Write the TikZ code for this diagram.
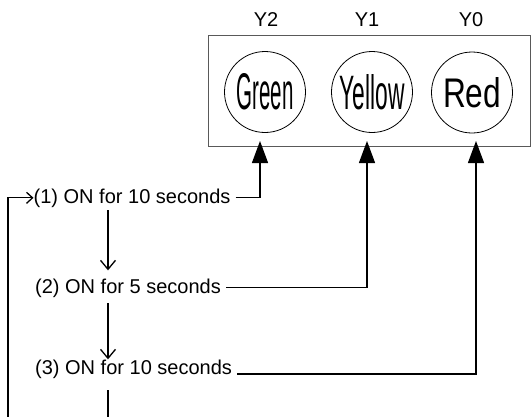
\documentclass[tikz,border=0pt]{standalone}
\usepackage{fontspec}
\usepackage{graphicx}
\setmainfont{Liberation Sans}
\usetikzlibrary{arrows.meta}
\begin{document}
\begin{tikzpicture}[x=1pt,y=-1pt,
  lbl/.style={font=\fontsize{20}{24}\selectfont, inner sep=0pt},
  lamp/.style={circle, draw, line width=0.8pt, minimum size=81pt, inner sep=0pt},
  wire/.style={line width=1.3pt},
  feed/.style={wire, -{Triangle[length=22pt,width=16pt]}},
  flow/.style={wire, -{Straight Barb[length=9pt,width=15pt]}},
  loopin/.style={wire, -{Straight Barb[length=6pt,width=11pt]}},
]
\useasboundingbox (0,0) rectangle (532,416);
% panel
\node[draw=black!65, line width=1.3pt, minimum width=322pt, minimum height=111pt,
      inner sep=0pt, anchor=north west] (panel) at (208,35) {};
% output labels
\node[lbl, anchor=base] (y2) at (266,26) {Y2};
\node[lbl, anchor=base] (y1) at (367,26) {Y1};
\node[lbl, anchor=base] (y0) at (471,26) {Y0};
% lamps
\node[lamp] (g) at (265,92) {\resizebox{57pt}{36pt}{Green}};
\node[lamp] (yl) at (372,92) {\raisebox{-3pt}{\resizebox{65pt}{35pt}{Yellow}}};
\node[lamp] (r) at (472,92.5) {\resizebox{58pt}{30pt}{Red}};
% steps
\node[lbl, anchor=base west] (t1) at (33.5,203) {(1) ON for 10 seconds};
\node[lbl, anchor=base west] (t2) at (35,293) {(2) ON for 5 seconds};
\node[lbl, anchor=base west] (t3) at (35,374) {(3) ON for 10 seconds};
% helper coordinates
\coordinate (ag) at (260,141);
\coordinate (ay) at (367,141);
\coordinate (ar) at (476,141);
\coordinate (cx) at (108,0);
\coordinate (b3) at (108,418);
\coordinate (lb) at (8,418);
% feeds to lamps
\draw[feed] ([xshift=5pt]t1.east) -| (ag);
\draw[feed] ([xshift=5pt]t2.east) -| (ay);
\draw[feed] ([xshift=5pt]t3.base east) -| (ar);
% sequence
\draw[flow] ([yshift=-3pt]t1.south -| cx) -- ([yshift=8pt]t2.north -| cx);
\draw[flow] ([yshift=-6pt]t2.south -| cx) -- (t3.north -| cx);
\draw[wire] ([yshift=-12pt]t3.south -| cx) -- (b3);
\draw[loopin] (lb) |- (t1.west);
\end{tikzpicture}
\end{document}
